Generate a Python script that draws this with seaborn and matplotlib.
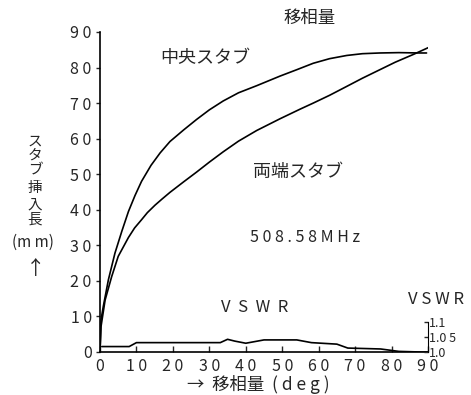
import numpy as np
import pandas as pd
import seaborn as sns
import matplotlib.pyplot as plt

# 中央スタブ (mm) vs 移相量 (deg)
center_deg = [0, 0.27, 0.9, 2.3, 4.1, 6.0, 7.8, 9.6, 11.4, 14.0, 16.5, 19.2, 23.0,
              26.5, 30.0, 33.8, 38.0, 43.0, 49.4, 54.0, 58.5, 63.0, 67.7, 72.0,
              76.8, 82.0, 87.8, 89.6]
center_mm = [0, 9.0, 12.8, 20.3, 27.8, 34.0, 39.5, 44.0, 48.0, 52.5, 56.0, 59.2, 62.5,
             65.4, 68.1, 70.6, 72.9, 74.9, 77.6, 79.4, 81.2, 82.5, 83.4, 83.9,
             84.1, 84.2, 84.1, 84.1]

# 両端スタブ (mm)
ends_deg = [0, 0.27, 1.4, 3.2, 5.0, 7.8, 9.5, 11.4, 13.0, 15.1, 17.0, 19.2, 23.0,
            26.5, 30.0, 33.8, 38.0, 43.0, 49.4, 54.9, 58.5, 63.0, 67.7, 72.0,
            76.8, 81.0, 86.0, 90.5]
ends_mm = [0, 7.1, 14.6, 21.2, 26.9, 32.2, 34.9, 37.2, 39.2, 41.3, 43.0, 44.9, 47.9,
           50.6, 53.4, 56.3, 59.3, 62.3, 65.6, 68.3, 70.0, 72.2, 74.7, 77.0,
           79.4, 81.5, 83.7, 85.8]

# VSWR
vswr_deg = [0.5, 8, 10, 33, 35, 37, 40, 45, 54, 58, 65, 68, 77, 82, 88, 90]
vswr_val = [1.018, 1.018, 1.031, 1.031, 1.042, 1.036, 1.029, 1.040, 1.040, 1.031,
            1.026, 1.013, 1.010, 1.002, 1.0, 1.0]

x_ticks = [0, 10, 20, 30, 40, 50, 60, 70, 80, 90]
y_ticks = [0, 10, 20, 30, 40, 50, 60, 70, 80, 90]
vswr_ticks = [1.0, 1.05, 1.1]
vswr_labels = ["1.0", "1.0 5", "1.1"]

sns.set_style("ticks")
plt.rcParams['font.family'] = ['Noto Sans CJK JP', 'DejaVu Sans']

fig = plt.figure(figsize=(4.71, 3.95), dpi=100)
ax = fig.add_axes([100 / 471, 43 / 395, 328 / 471, 320 / 395])

sns.lineplot(x=center_deg, y=center_mm, ax=ax, color="black", lw=1.2)
sns.lineplot(x=ends_deg, y=ends_mm, ax=ax, color="black", lw=1.2)

ax.set_xlim(0, 90)
ax.set_ylim(0, 90)
ax.set_xticks(x_ticks)
ax.set_xticklabels([" ".join(str(t)) for t in x_ticks], fontsize=11.5)
ax.set_yticks(y_ticks)
ax.set_yticklabels([" ".join(str(t)) for t in y_ticks], fontsize=11.5)
ax.tick_params(axis="x", direction="in", length=4, width=1, pad=4)
ax.tick_params(axis="y", direction="out", length=3, width=1, pad=3)
for s in ["top", "right"]:
    ax.spines[s].set_visible(False)
for s in ["left", "bottom"]:
    ax.spines[s].set_color("black")
    ax.spines[s].set_linewidth(1.2)

# VSWR on a twin axis, 0.1 of VSWR = 8.5 mm
ax2 = ax.twinx()
ax2.set_ylim(1.0, 1.0 + 90 * 0.1 / 8.5)
sns.lineplot(x=vswr_deg, y=vswr_val, ax=ax2, color="black", lw=1.2)
ax2.set_yticks(vswr_ticks)
ax2.set_yticklabels(vswr_labels, fontsize=9)
ax2.tick_params(axis="y", direction="in", length=3, width=1, pad=1)
ax2.spines["right"].set_bounds(1.0, 1.1)
ax2.spines["right"].set_color("black")
for s in ["top", "left", "bottom"]:
    ax2.spines[s].set_visible(False)
ax2.set_xlim(0, 90)

# texts
fig.text(310 / 471, 1 - 18 / 395, "移相量", fontsize=12.5, ha="center", va="center")
fig.text(205 / 471, 1 - 58 / 395, "中央スタブ", fontsize=13, ha="center", va="center")
fig.text(298 / 471, 1 - 172 / 395, "両端スタブ", fontsize=13, ha="center", va="center")
fig.text(305 / 471, 1 - 237 / 395, "5 0 8 . 5 8 M H z", fontsize=11.5, ha="center", va="center")
fig.text(255 / 471, 1 - 308 / 395, "V  S  W  R", fontsize=12, ha="center", va="center")
fig.text(436 / 471, 1 - 300 / 395, "V S W R", fontsize=12, ha="center", va="center")
fig.text(258 / 471, 1 - 384 / 395, "→  移相量  ( d e g )", fontsize=12.5, ha="center", va="center")

ylab = ["ス", "タ", "ブ", "挿", "入", "長"]
ylab_y = [142, 156, 171, 188, 205, 220]
for ch, yy in zip(ylab, ylab_y):
    fig.text(35 / 471, 1 - yy / 395, ch, fontsize=10.5, ha="center", va="center")
fig.text(33 / 471, 1 - 242 / 395, "(m m)", fontsize=11, ha="center", va="center")
fig.text(36 / 471, 1 - 268 / 395, "↑", fontsize=14, ha="center", va="center")

fig.savefig("out.png", dpi=100, facecolor="white")
